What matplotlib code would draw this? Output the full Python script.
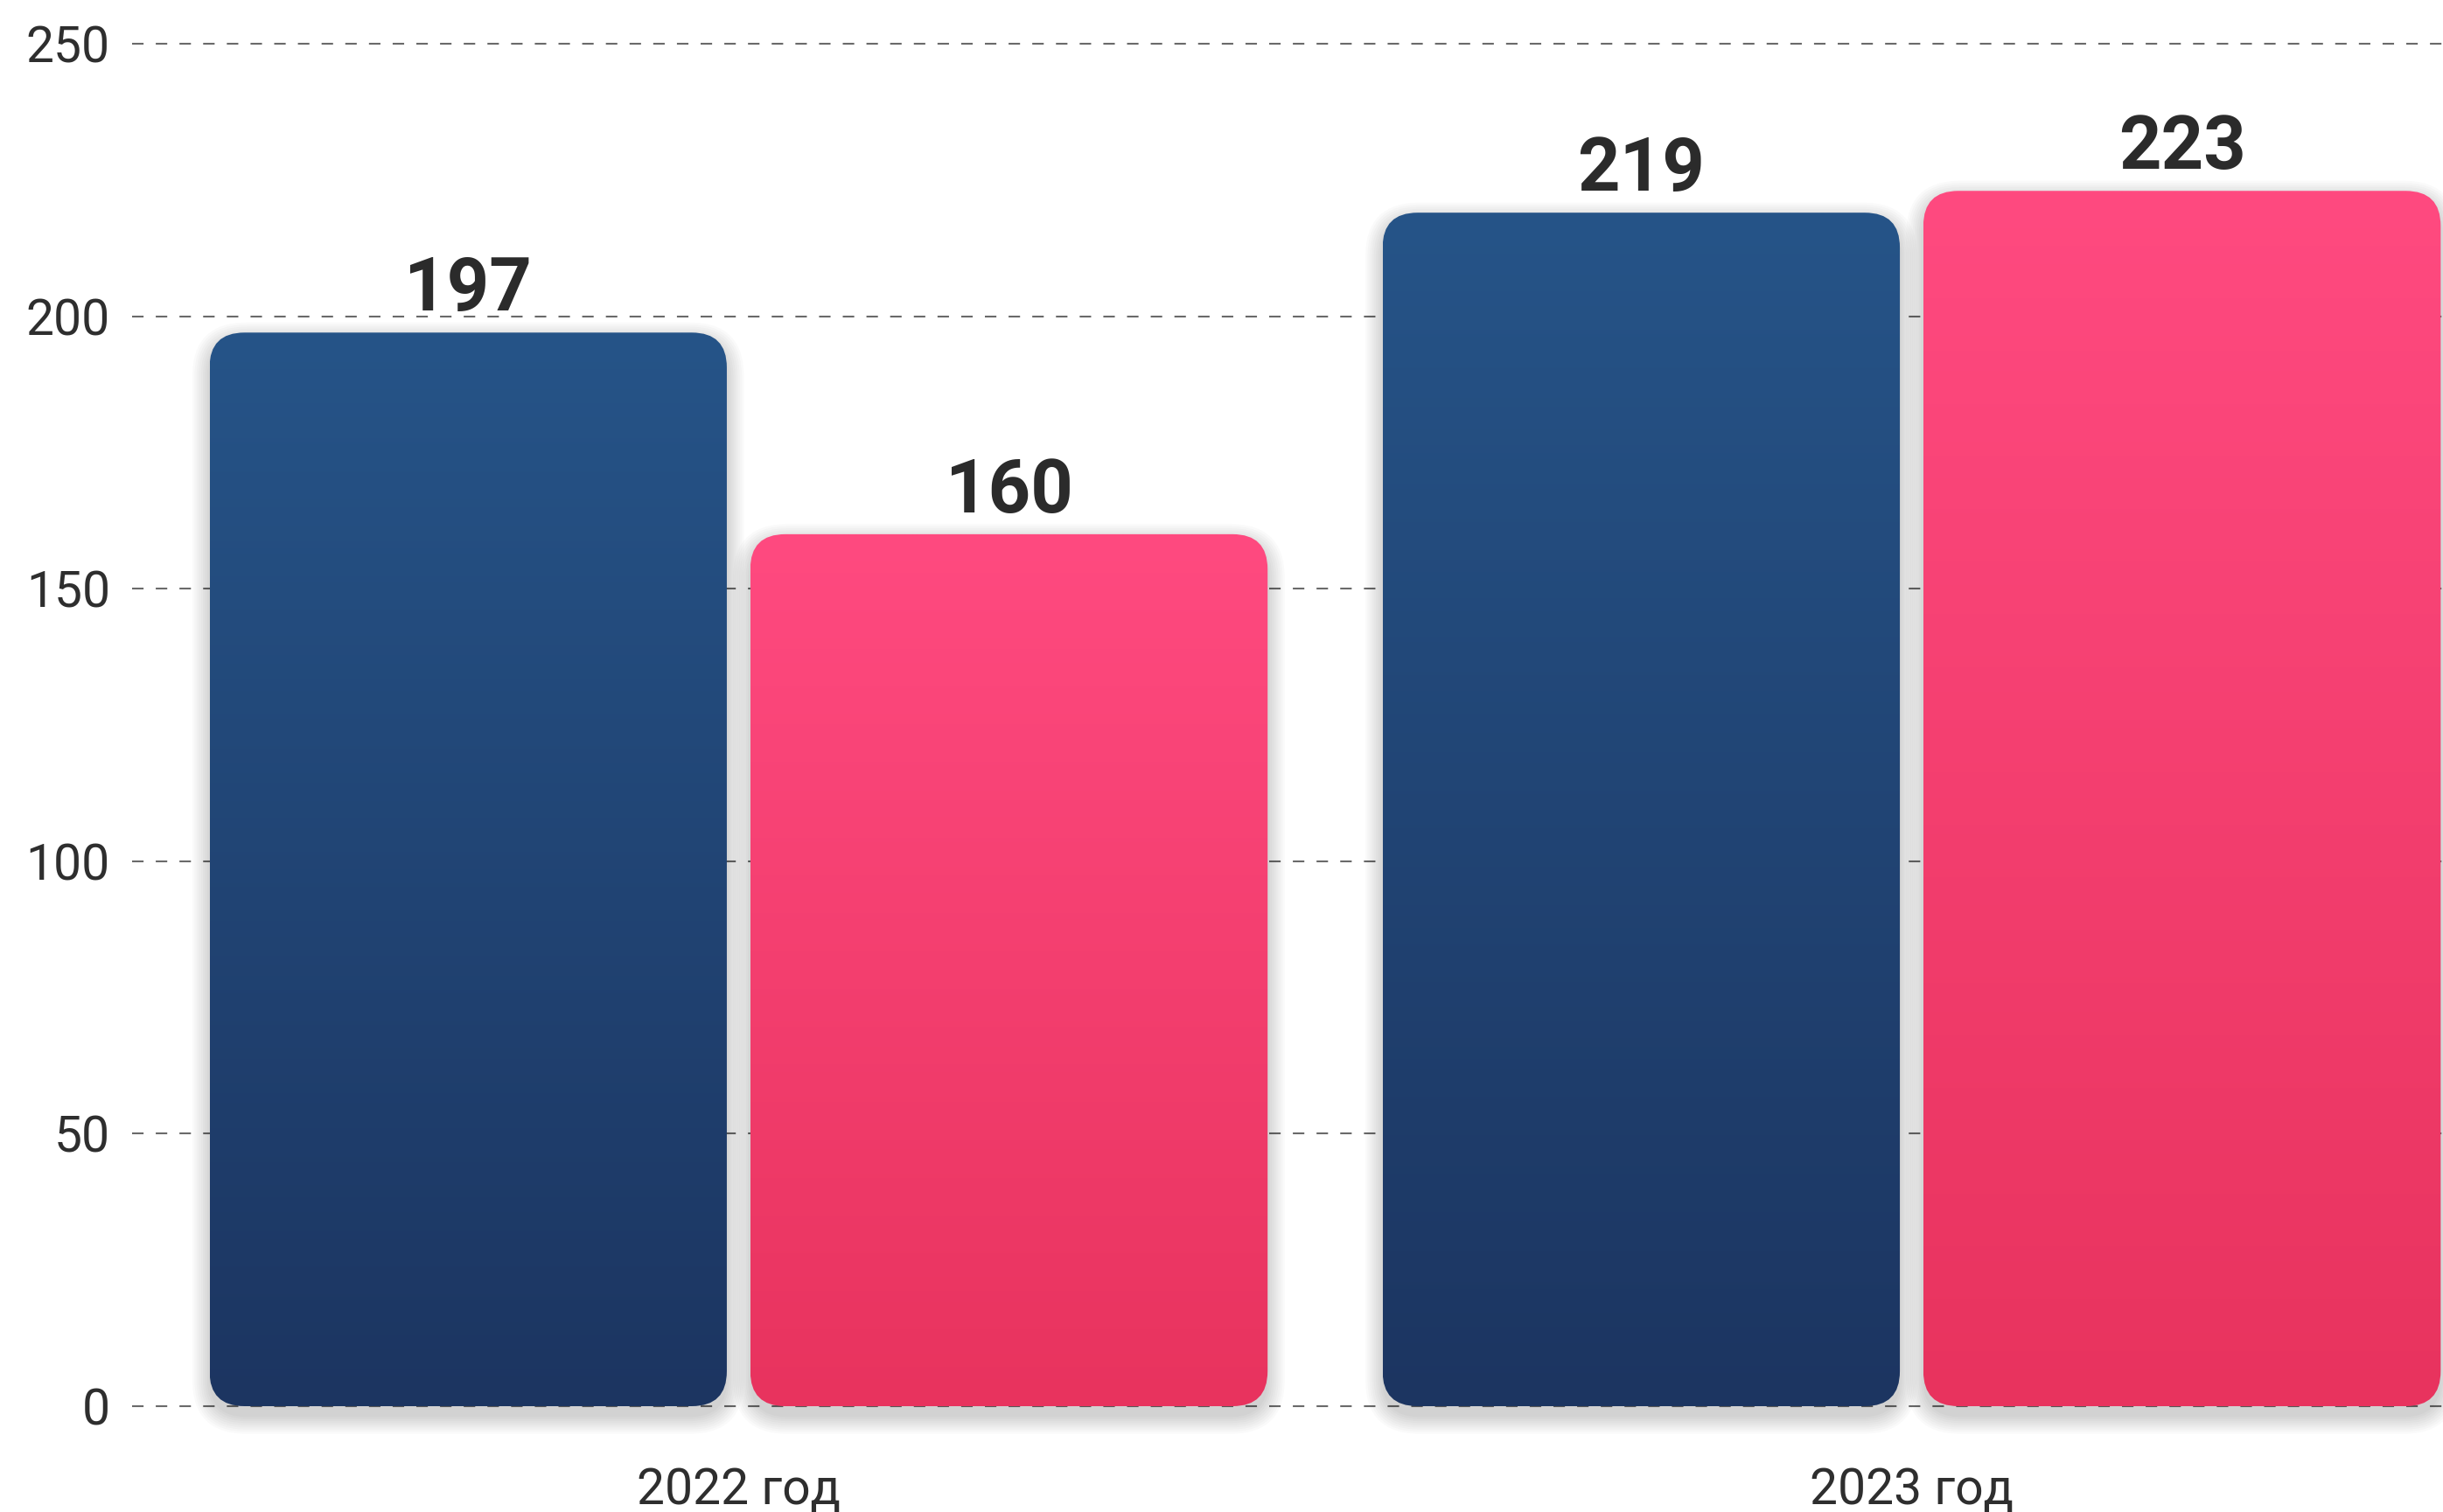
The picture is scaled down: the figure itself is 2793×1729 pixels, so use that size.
import numpy as np
import matplotlib
matplotlib.use('Agg')
from matplotlib import pyplot as plt
from matplotlib.patches import FancyBboxPatch
from matplotlib.colors import to_rgb

# data
groups = ['2022 год', '2023 год']
series_blue = [197, 219]
series_pink = [160, 223]
yticks = [0, 50, 100, 150, 200, 250]

blue_top, blue_bottom = '#265488', '#1C3561'
pink_top, pink_bottom = '#FF4A80', '#E8335E'

plt.rcParams['font.family'] = ['Roboto', 'DejaVu Sans']

W, H, DPI = 2793, 1729, 100
fig = plt.figure(figsize=(W / DPI, H / DPI), dpi=DPI)
ax = fig.add_axes([151 / W, 121 / H, 1 - 151 / W, 1558 / H])
ax.set_xlim(-0.517, 1.453)
ax.set_ylim(0, 250)

# pixel -> data unit factors
px_x = (1.453 + 0.517) / (W - 151)
px_y = 250 / 1558
aspect = px_y / px_x

width = 0.441
offset = 0.2305
radius = 40 * px_x

for spine in ax.spines.values():
    spine.set_visible(False)
ax.tick_params(axis='both', length=0)
ax.set_yticks(yticks)
ax.set_yticklabels([str(t) for t in yticks], fontsize=41, color='#2E2E2E')
ax.tick_params(axis='y', pad=18)
ax.set_xticks(range(len(groups)))
ax.set_xticklabels(groups, fontsize=41, color='#2E2E2E')
ax.tick_params(axis='x', pad=50)

for t in yticks:
    ax.axhline(t, color='#6A6A6A', lw=1.5, dashes=(6.3, 6.7), zorder=1, clip_on=False)


def gradient_bar(x, h, c_top, c_bot):
    x0 = x - width / 2
    # soft shadow, mostly below the bar
    for k in range(1, 10):
        pad = k * 2.4 * px_x
        sh = FancyBboxPatch((x0 + 2 * px_x, -10 * px_y), width - 4 * px_x, h,
                            boxstyle=f'round,pad={pad},rounding_size={radius + pad}',
                            mutation_aspect=aspect, facecolor='black',
                            edgecolor='none', alpha=0.02, zorder=2, clip_on=False)
        ax.add_patch(sh)
    patch = FancyBboxPatch((x0, 0), width, h,
                           boxstyle=f'round,pad=0,rounding_size={radius}',
                           mutation_aspect=aspect, facecolor='none',
                           edgecolor='none', zorder=3)
    ax.add_patch(patch)
    t = np.linspace(0, 1, 256)[:, None, None]
    grad = np.array(to_rgb(c_bot))[None, None, :] * (1 - t) + np.array(to_rgb(c_top))[None, None, :] * t
    im = ax.imshow(grad, extent=[x0, x0 + width, 0, h], origin='lower',
                   aspect='auto', zorder=3, interpolation='bilinear')
    im.set_clip_path(patch)
    ax.annotate(str(h), (x, h), xytext=(0, 18), textcoords='offset points',
                ha='center', va='baseline', fontsize=61, fontweight='bold',
                color='#2B2B2B', zorder=5)


for i in range(len(groups)):
    gradient_bar(i - offset, series_blue[i], blue_top, blue_bottom)
    gradient_bar(i + offset, series_pink[i], pink_top, pink_bottom)

ax.set_xlim(-0.517, 1.453)
ax.set_ylim(0, 250)

plt.savefig('out.png', dpi=DPI)
